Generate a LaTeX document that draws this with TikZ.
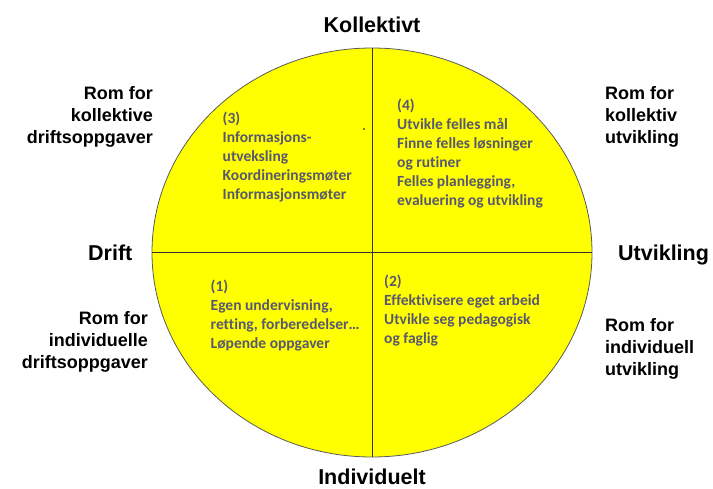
\documentclass[tikz,border=0pt]{standalone}
\usepackage{fontspec}
\setmainfont{Liberation Sans}
\newfontfamily\carlito[Ligatures={NoCommon}]{Carlito}
\usetikzlibrary{shapes.geometric}
\definecolor{qyellow}{RGB}{255,255,0}
\definecolor{qtext}{RGB}{88,88,112}
\definecolor{qedge}{RGB}{90,90,90}
\tikzset{
  head/.style={font=\fontsize{21.5}{25}\selectfont\bfseries, inner sep=0pt},
  side/.style={font=\fontsize{18}{22}\selectfont\bfseries, inner sep=0pt},
  quad/.style={font=\carlito\fontsize{15.5}{19}\selectfont\bfseries, text=qtext, inner sep=0pt, align=left, anchor=north west},
}
\begin{document}
\begin{tikzpicture}[x=1pt,y=-1pt]
\useasboundingbox (0,0) rectangle (713,489);
\node[ellipse, draw=qedge, line width=0.8pt, fill=qyellow, minimum width=440pt, minimum height=409pt, inner sep=0pt] (e) at (372,252.5) {};
\draw[line width=0.9pt, black!80] (e.west) -- (e.east);
\draw[line width=0.9pt, black!80] (e.north) -- (e.south);

\node[head, anchor=base] (kol) at (372,33) {Kollektivt};
\node[head, anchor=base] (ind) at (372,484) {Individuelt};
\node[head, anchor=base west] (dri) at (88,261) {Drift};
\node[head, anchor=base west] (utv) at (618,261) {Utvikling};

\node[side, align=right, anchor=north east] (tl) at (153,86) {Rom for\\kollektive\\driftsoppgaver};
\node[side, align=left, anchor=north west] (tr) at (605,86) {Rom for\\kollektiv\\utvikling};
\node[side, align=right, anchor=north east] (bl) at (148,311) {Rom for\\individuelle\\driftsoppgaver};
\node[side, align=left, anchor=north west] (br) at (605,318) {Rom for\\individuell\\utvikling};

\node[quad] (q3) at (222.5,111.5) {(3)\\Informasjons-\\utveksling\\Koordineringsmøter\\Informasjonsmøter};
\node[quad] (q4) at (397,98.5) {(4)\\Utvikle felles mål\\Finne felles løsninger\\og rutiner\\Felles planlegging,\\evaluering og utvikling};
\node[quad] (q1) at (210.5,280) {(1)\\Egen undervisning,\\retting, forberedelser…\\Løpende oppgaver};
\node[quad] (q2) at (384,275) {(2)\\Effektivisere eget arbeid\\Utvikle seg pedagogisk\\og faglig};

\fill[black] (364,129) circle (0.9pt);
\end{tikzpicture}
\end{document}
